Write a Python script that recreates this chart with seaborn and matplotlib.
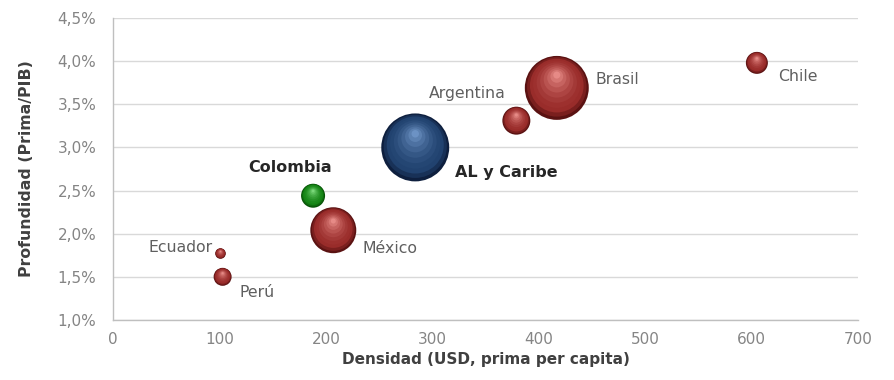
import matplotlib
matplotlib.use("Agg")
import matplotlib.pyplot as plt
import matplotlib.transforms as mtransforms
from matplotlib.colors import to_rgb
import seaborn as sns
import pandas as pd
import numpy as np

# ---- data ----
paises = ["Ecuador", "Perú", "Colombia", "México", "AL y Caribe", "Argentina", "Brasil", "Chile"]
densidad = [101, 103, 188, 207, 284, 379, 417, 605]          # USD, prima per capita
profundidad = [1.77, 1.50, 2.44, 2.04, 3.00, 3.31, 3.69, 3.98]  # % prima/PIB
volumen = [28, 81, 144, 529, 1156, 196, 1024, 121]           # relative bubble size
grupo = ["otro", "otro", "col", "otro", "al", "otro", "otro", "otro"]
x_ticks = [0, 100, 200, 300, 400, 500, 600, 700]
y_ticks = [1.0, 1.5, 2.0, 2.5, 3.0, 3.5, 4.0, 4.5]

df = pd.DataFrame({"pais": paises, "x": densidad, "y": profundidad,
                   "v": volumen, "g": grupo})

sns.set_style("white")
plt.rcParams["font.family"] = ["DejaVu Sans"]

fig = plt.figure(figsize=(8.94, 3.80), dpi=100)
ax = fig.add_axes([0.1264, 0.158, 0.9597 - 0.1264, 0.9526 - 0.158])

vmax = max(volumen)
smax = 2.07 * vmax

# sphere shading: edge colour -> body -> highlight
shades = {
    "otro": ("#5a1212", "#992c2a", "#e68a86"),
    "al":   ("#0e1f3e", "#21426f", "#6c92c4"),
    "col":  ("#065006", "#168516", "#7ad87a"),
}
fracs = [1.0, 0.93, 0.84, 0.74, 0.63, 0.52, 0.41, 0.30, 0.20, 0.11]


def shade(g, t):
    e, b, h = (np.array(to_rgb(c)) for c in shades[g])
    if t < 0.22:
        c = e + (b - e) * (t / 0.22)
    else:
        c = b + (h - b) * ((t - 0.22) / 0.78) ** 1.6
    return tuple(np.clip(c, 0, 1))


for i in range(len(df)):
    row = df.iloc[[i]]
    g = row["g"].iloc[0]
    r_pt = np.sqrt(2.07 * row["v"].iloc[0]) / 2
    for k, f in enumerate(fracs):
        t = k / (len(fracs) - 1)
        dy = (1 - f) * 0.45 * r_pt
        tr = ax.transData + mtransforms.ScaledTranslation(0, dy / 72, fig.dpi_scale_trans)
        sns.scatterplot(data=row, x="x", y="y", size="v",
                        sizes=(0, smax * f * f), size_norm=(0, vmax), legend=False,
                        color=shade(g, t), edgecolor="none", linewidth=0,
                        ax=ax, zorder=3 + k, transform=tr)

# labels
offsets = {
    "Ecuador": (-8, 6, "right", False),
    "Perú": (17, -16, "left", False),
    "Colombia": (-23, 28, "center", True),
    "México": (29, -18, "left", False),
    "AL y Caribe": (40, -25, "left", True),
    "Argentina": (-11, 27, "right", False),
    "Brasil": (39, 8, "left", False),
    "Chile": (21, -14, "left", False),
}
for p, xv, yv in zip(paises, densidad, profundidad):
    dx, dy, ha, bold = offsets[p]
    ax.annotate(p, (xv, yv), xytext=(dx * 0.72, dy * 0.72), textcoords="offset points",
                ha=ha, va="center", fontsize=11.5 if bold else 11.3,
                fontweight="bold" if bold else "normal",
                color="#262626" if bold else "#5f5f5f", zorder=20)

ax.set_xlim(0, 700)
ax.set_ylim(1.0, 4.5)
ax.set_xticks(x_ticks)
ax.set_yticks(y_ticks)
ax.set_xticklabels([str(t) for t in x_ticks])
ax.set_yticklabels([f"{t:.1f}%".replace(".", ",") for t in y_ticks])
ax.tick_params(axis="both", colors="#9a9a9a", labelsize=11, length=4, width=0.8,
               direction="out", labelcolor="#858585")
ax.tick_params(axis="x", pad=5)
ax.tick_params(axis="y", pad=8)
ax.yaxis.grid(True, color="#d9d9d9", linewidth=1.0)
ax.set_axisbelow(True)
for s in ["top", "right"]:
    ax.spines[s].set_visible(False)
for s in ["left", "bottom"]:
    ax.spines[s].set_color("#bfbfbf")
    ax.spines[s].set_linewidth(1.0)

ax.set_xlabel("Densidad (USD, prima per capita)", fontsize=11, fontweight="bold",
              color="#404040", labelpad=3)
ax.set_ylabel("Profundidad (Prima/PIB)", fontsize=11.3, fontweight="bold",
              color="#404040", labelpad=17)

fig.savefig("out.png", dpi=100)
